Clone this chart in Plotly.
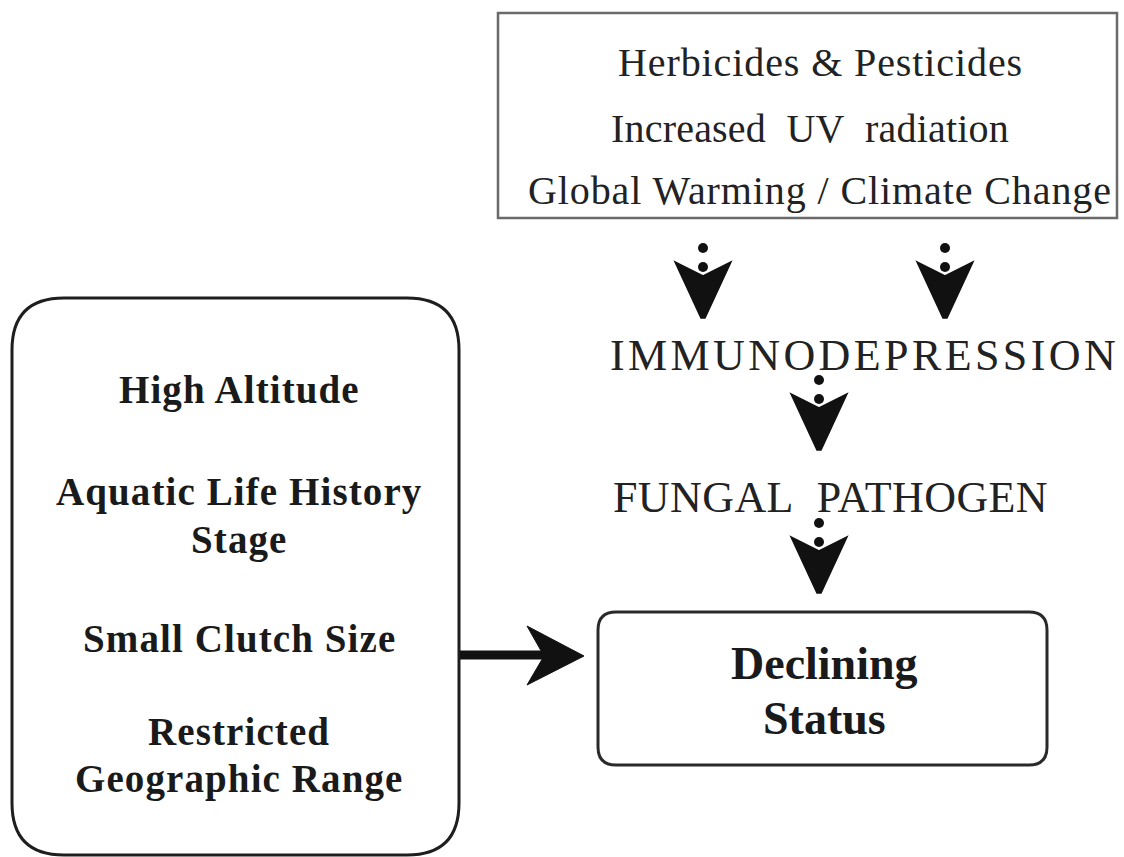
import plotly.graph_objects as go

# ---- diagram content (text) ----
stressors = ["Herbicides &amp; Pesticides", "Increased\u00a0 UV\u00a0 radiation",
             "Global Warming / Climate Change"]
mediators = ["IMMUNODEPRESSION", "FUNGAL\u00a0 PATHOGEN"]
traits = ["High Altitude", "Aquatic Life History", "Stage", "Small Clutch Size",
          "Restricted", "Geographic Range"]
outcome = ["Declining", "Status"]

# ---- layout geometry (pixels, y downward) ----
W, H = 1124, 857
stressor_xy = [(820, 62), (810, 128), (820, 190)]
stressor_spacing = [0.9, 0.2, 0.9]
mediator_xy = [(864, 355), (830, 497)]
mediator_spacing = [3.4, 0.4]
trait_y = [390, 492, 540, 638, 731, 779]
outcome_y = [663, 718]
chevrons = [(703, 262), (945, 262), (819, 394), (819, 537)]

SERIF = "Liberation Serif, Times New Roman, serif"


def spaced(text, px):
    return f'<span style="letter-spacing:{px}px">{text}</span>'


fig = go.Figure()
fig.add_trace(go.Scatter(x=[0, W], y=[0, H], mode="markers",
                         marker=dict(opacity=0), hoverinfo="skip", showlegend=False))

shapes = []


def rrect(x0, y0, x1, y1, r):
    return (f"M {x0+r},{y0} L {x1-r},{y0} Q {x1},{y0} {x1},{y0+r} "
            f"L {x1},{y1-r} Q {x1},{y1} {x1-r},{y1} L {x0+r},{y1} "
            f"Q {x0},{y1} {x0},{y1-r} L {x0},{y0+r} Q {x0},{y0} {x0+r},{y0} Z")


# top box
shapes.append(dict(type="rect", x0=498, y0=13, x1=1117, y1=218,
                   line=dict(color="#6a6a6a", width=2.5)))
# left rounded box
shapes.append(dict(type="path", path=rrect(12, 298, 459, 855, 52),
                   line=dict(color="#1e1e1e", width=3)))
# declining status box
shapes.append(dict(type="path", path=rrect(598, 612, 1047, 765, 18),
                   line=dict(color="#2a2a2a", width=3)))

# chevron arrows with dots
for cx, ya in chevrons:
    p = (f"M {cx-28},{ya} L {cx},{ya+14} L {cx+28},{ya} "
         f"L {cx+2},{ya+56} L {cx-2},{ya+56} Z")
    shapes.append(dict(type="path", path=p, fillcolor="#111111",
                       line=dict(color="#111111", width=1.5)))
    for dy in (-14, 5):
        r = 5
        shapes.append(dict(type="circle", x0=cx-r, x1=cx+r, y0=ya+dy-r, y1=ya+dy+r,
                           fillcolor="#111111", line=dict(width=0)))

# horizontal arrow from traits box to outcome box
shapes.append(dict(type="line", x0=460, y0=655, x1=548, y1=655,
                   line=dict(color="#111111", width=9)))
shapes.append(dict(type="path",
                   path="M 527,626 L 584,656 L 527,685 L 544,656 Z",
                   fillcolor="#111111", line=dict(color="#111111", width=1)))

ann = []
for t, (x, y), sp in zip(stressors, stressor_xy, stressor_spacing):
    ann.append(dict(x=x, y=y, text=spaced(t, sp),
                    font=dict(family=SERIF, size=40, color="#222")))
for t, (x, y), sp in zip(mediators, mediator_xy, mediator_spacing):
    ann.append(dict(x=x, y=y, text=spaced(t, sp),
                    font=dict(family=SERIF, size=44, color="#222")))
for t, y in zip(traits, trait_y):
    ann.append(dict(x=239, y=y, text=spaced(f"<b>{t}</b>", 1.1),
                    font=dict(family=SERIF, size=39, color="#1a1a1a")))
for t, y in zip(outcome, outcome_y):
    ann.append(dict(x=824, y=y, text=f"<b>{t}</b>",
                    font=dict(family=SERIF, size=46, color="#1a1a1a")))
for a in ann:
    a.update(xref="x", yref="y", showarrow=False, xanchor="center", yanchor="middle")

fig.update_layout(
    width=W, height=H, margin=dict(l=0, r=0, t=0, b=0),
    paper_bgcolor="white", plot_bgcolor="white",
    xaxis=dict(range=[0, W], visible=False, fixedrange=True),
    yaxis=dict(range=[H, 0], visible=False, fixedrange=True),
    shapes=shapes, annotations=ann, showlegend=False,
)

fig.write_html("out.html", config={"displayModeBar": False},
               post_script="document.body.style.margin='0';")
